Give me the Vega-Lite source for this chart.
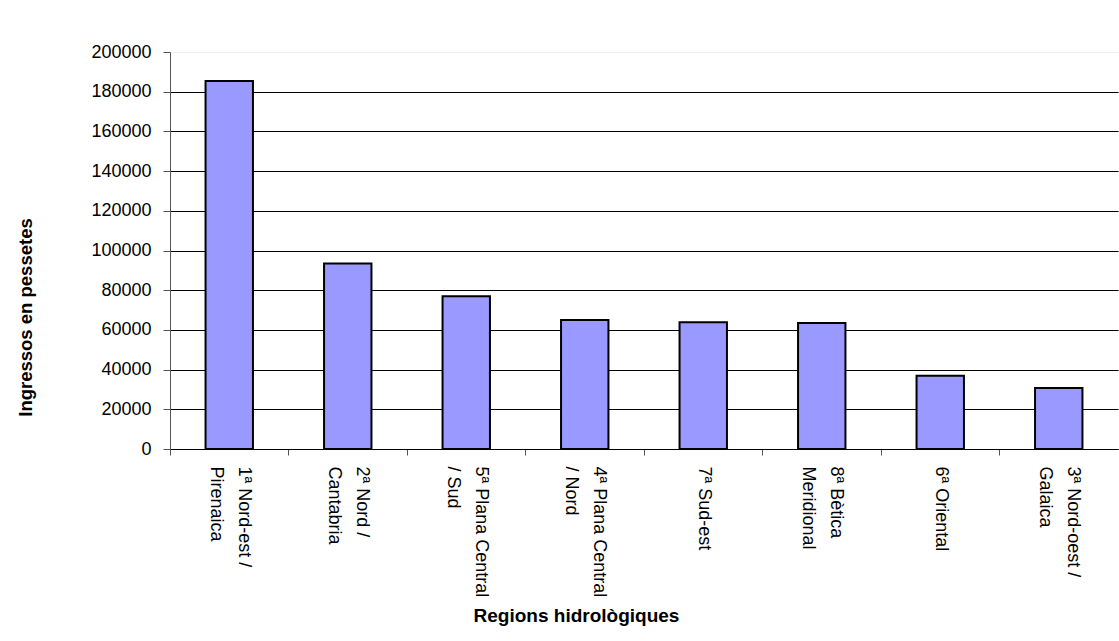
{
  "$schema": "https://vega.github.io/schema/vega-lite/v6.json",
  "width": 948,
  "height": 397,
  "autosize": {"type": "none"},
  "padding": {"left": 170, "top": 52, "right": 1, "bottom": 192},
  "background": "white",
  "data": {
    "values": [
      {"regio": "1ª Nord-est / Pirenaica", "l1": "1ª Nord-est /", "l2": "Pirenaica", "ingressos": 185400},
      {"regio": "2ª Nord / Cantabria", "l1": "2ª Nord /", "l2": "Cantabria", "ingressos": 93400},
      {"regio": "5ª Plana Central / Sud", "l1": "5ª Plana Central", "l2": "/ Sud", "ingressos": 77000},
      {"regio": "4ª Plana Central / Nord", "l1": "4ª Plana Central", "l2": "/ Nord", "ingressos": 65000},
      {"regio": "7ª Sud-est", "l1": "7ª Sud-est", "l2": "", "ingressos": 63800},
      {"regio": "8ª Bètica Meridional", "l1": "8ª Bètica", "l2": "Meridional", "ingressos": 63500},
      {"regio": "6ª Oriental", "l1": "6ª Oriental", "l2": "", "ingressos": 36900},
      {"regio": "3ª Nord-oest / Galaica", "l1": "3ª Nord-oest /", "l2": "Galaica", "ingressos": 30700}
    ]
  },
  "transform": [
    {"calculate": "datum.l2 === '' ? datum.l1 : datum.l1 + ' | ' + datum.l2", "as": "lbl"}
  ],
  "mark": {"type": "bar", "fill": "#9999FF", "stroke": "black", "strokeWidth": 2},
  "encoding": {
    "x": {
      "field": "lbl",
      "type": "nominal",
      "sort": null,
      "scale": {"paddingInner": 0.6, "paddingOuter": 0.3},
      "axis": {
        "title": "Regions hidrològiques",
        "titleFont": "Liberation Sans",
        "titleFontSize": 19,
        "titleFontWeight": "bold",
        "titleColor": "black",
        "titleX": 406,
        "titleY": 166,
        "titleBaseline": "middle",
        "titleAlign": "center",
        "labelExpr": "split(datum.label, ' | ')",
        "labelAngle": 90,
        "labelAlign": "left",
        "labelBaseline": "middle",
        "labelFont": "Liberation Sans",
        "labelFontSize": 18,
        "labelLineHeight": 28,
        "labelColor": "black",
        "labelPadding": 11,
        "labelOffset": {"condition": {"test": "indexof(datum.value, ' | ') >= 0", "value": 73.3}, "value": 59.3},
        "labelLimit": 0,
        "tickOffset": -59.3,
        "tickSize": 6,
        "tickColor": "#555555",
        "domainColor": "black",
        "domainWidth": 1,
        "grid": false
      }
    },
    "y": {
      "field": "ingressos",
      "type": "quantitative",
      "scale": {"domain": [0, 200000], "nice": false},
      "axis": {
        "title": "Ingressos en pessetes",
        "titleFont": "Liberation Sans",
        "titleFontSize": 18.5,
        "titleFontWeight": "bold",
        "titleColor": "black",
        "titleAngle": -90,
        "titleX": -145,
        "titleY": 265,
        "titleBaseline": "middle",
        "titleAlign": "center",
        "values": [0, 20000, 40000, 60000, 80000, 100000, 120000, 140000, 160000, 180000, 200000],
        "format": "d",
        "labelFont": "Liberation Sans",
        "labelFontSize": 18,
        "labelColor": "black",
        "labelPadding": 12,
        "tickSize": 7,
        "tickColor": "#555555",
        "domainColor": "#555555",
        "grid": true,
        "gridColor": {"condition": {"test": "datum.value === 200000", "value": "#eeeeee"}, "value": "black"},
        "gridOpacity": 1,
        "gridWidth": 1
      }
    }
  },
  "config": {
    "view": {"stroke": null},
    "font": "Liberation Sans"
  }
}
